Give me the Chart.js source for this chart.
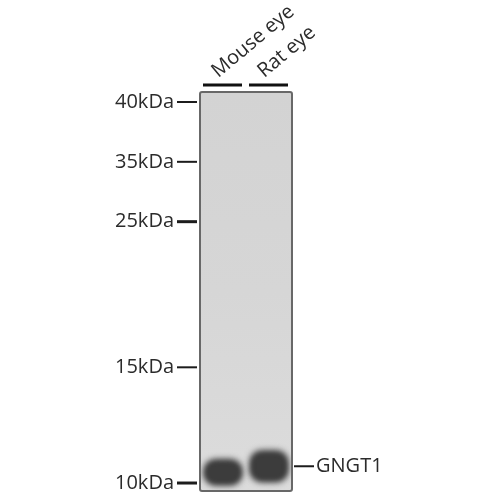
<!DOCTYPE html>
<html>
<head>
<meta charset="utf-8">
<script src="https://cdn.jsdelivr.net/npm/chart.js@4"></script>
<style>
  html, body { margin: 0; background: #fff; }
  canvas { display: block; }
</style>
</head>
<body>
<canvas id="blot" width="500" height="500"></canvas>
<script>
// lanes
const lanes = ['Mouse eye', 'Rat eye'];

// size markers, position = % of the way down the membrane
const markerLabels = ['40kDa', '35kDa', '25kDa', '15kDa', '10kDa'];
const markerPositions = [2.5, 17.5, 32.5, 69, 98];
const markerWeights = [2, 2, 3, 2, 3];

// target protein
const targetLabels = ['GNGT1'];
const targetPositions = [93.8];

// band extent per lane, same % scale
const bandTop = [92, 89.8];
const bandBottom = [98.6, 97.8];
const coreTop = [93.2, 91];
const coreBottom = [97.6, 96.8];

const INK = '#2b2b2b';

const blotPlugin = {
  id: 'blot',
  beforeDatasetsDraw(chart) {
    const { ctx, chartArea: a } = chart;
    const g = ctx.createLinearGradient(0, a.top, 0, a.bottom);
    g.addColorStop(0, '#d3d3d3');
    g.addColorStop(0.5, '#d6d6d6');
    g.addColorStop(1, '#dcdcdc');
    ctx.save();
    ctx.fillStyle = g;
    ctx.fillRect(a.left, a.top, a.right - a.left, a.bottom - a.top);
    ctx.restore();
  },
  beforeDatasetDraw(chart, args) {
    chart.ctx.save();
    chart.ctx.filter = 'blur(' + chart.data.datasets[args.index].blur + 'px)';
  },
  afterDatasetDraw(chart) {
    chart.ctx.restore();
  },
  afterDraw(chart) {
    const { ctx, chartArea: a, scales } = chart;
    ctx.save();
    // membrane outline
    ctx.strokeStyle = '#686868';
    ctx.lineWidth = 2;
    ctx.beginPath();
    ctx.roundRect(a.left, a.top, a.right - a.left, a.bottom - a.top, 2);
    ctx.stroke();

    // marker ticks, left of the membrane
    ctx.strokeStyle = '#1c1c1c';
    markerPositions.forEach((p, i) => {
      const y = scales.y.getPixelForValue(p);
      ctx.lineWidth = markerWeights[i];
      ctx.beginPath();
      ctx.moveTo(a.left - 23, y);
      ctx.lineTo(a.left - 3, y);
      ctx.stroke();
    });

    // target tick, right of the membrane
    ctx.lineWidth = 2;
    targetPositions.forEach(p => {
      const y = scales.y2.getPixelForValue(p);
      ctx.beginPath();
      ctx.moveTo(a.right + 2, y);
      ctx.lineTo(a.right + 22, y);
      ctx.stroke();
    });

    // lane bars above the membrane
    ctx.strokeStyle = '#111';
    ctx.lineWidth = 3;
    lanes.forEach((l, i) => {
      const x = scales.x.getPixelForValue(i);
      ctx.beginPath();
      ctx.moveTo(x - 20, a.top - 7);
      ctx.lineTo(x + 19, a.top - 7);
      ctx.stroke();
    });
    ctx.restore();
  }
};

const labelFont = { family: '"Open Sans", sans-serif', size: 20 };

new Chart(document.getElementById('blot'), {
  type: 'bar',
  data: {
    labels: lanes,
    datasets: [
      {
        label: 'Band halo',
        data: lanes.map((l, i) => [bandTop[i], bandBottom[i]]),
        backgroundColor: '#3c3c3c',
        borderRadius: 12,
        borderSkipped: false,
        barPercentage: 0.84,
        categoryPercentage: 1,
        grouped: false,
        blur: 3
      },
      {
        label: 'Band core',
        data: lanes.map((l, i) => [coreTop[i], coreBottom[i]]),
        backgroundColor: '#1e1e1e',
        borderRadius: 10,
        borderSkipped: false,
        barPercentage: 0.72,
        categoryPercentage: 1,
        grouped: false,
        blur: 3
      }
    ]
  },
  options: {
    responsive: false,
    animation: false,
    layout: { padding: { bottom: 9 } },
    plugins: { legend: { display: false }, tooltip: { enabled: false } },
    scales: {
      x: {
        position: 'top',
        grid: { display: false, drawTicks: false },
        border: { display: false },
        ticks: { color: INK, font: labelFont, minRotation: 40, maxRotation: 40, padding: 9, labelOffset: 7, autoSkip: false },
        afterFit(scale) { scale.height = 92; scale.paddingLeft = 0; scale.paddingRight = 0; }
      },
      y: {
        reverse: true,
        min: 0,
        max: 100,
        grid: { display: false, drawTicks: false },
        border: { display: false },
        afterBuildTicks(scale) { scale.ticks = markerPositions.map(v => ({ value: v })); },
        ticks: {
          color: INK,
          font: labelFont,
          padding: 26,
          autoSkip: false,
          callback(v) { return markerLabels[markerPositions.indexOf(v)]; }
        },
        afterFit(scale) { scale.width = 200; scale.paddingTop = 0; scale.paddingBottom = 0; }
      },
      y2: {
        position: 'right',
        reverse: true,
        min: 0,
        max: 100,
        grid: { display: false, drawTicks: false },
        border: { display: false },
        afterBuildTicks(scale) { scale.ticks = targetPositions.map(v => ({ value: v })); },
        ticks: {
          color: INK,
          font: labelFont,
          padding: 24,
          autoSkip: false,
          callback(v) { return targetLabels[targetPositions.indexOf(v)]; }
        },
        afterFit(scale) { scale.width = 208; scale.paddingTop = 0; scale.paddingBottom = 0; }
      }
    }
  },
  plugins: [blotPlugin]
});
</script>
</body>
</html>
